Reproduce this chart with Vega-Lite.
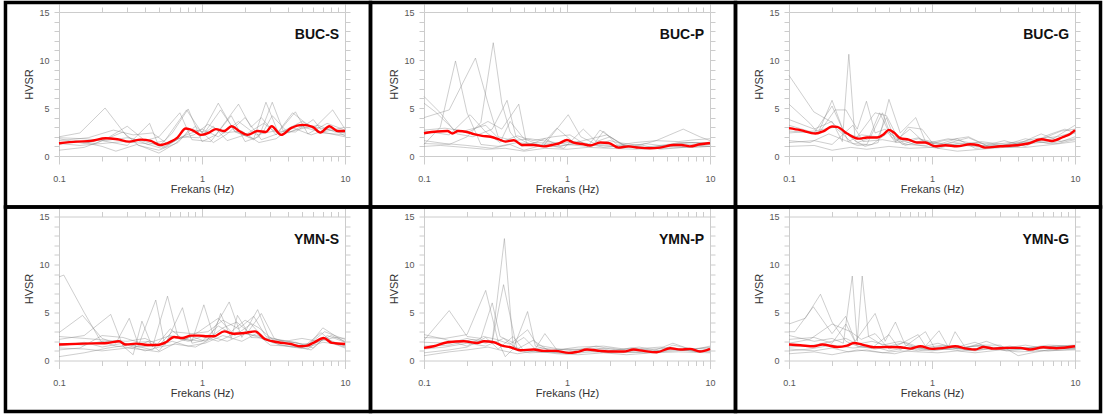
{
  "$schema": "https://vega.github.io/schema/vega-lite/v6.json",
  "background": "white",
  "padding": {"left": 3, "top": 0, "right": 0, "bottom": 0},
  "data": {"values": [
{"s":"BUC-S","t":0,"f":0.1,"h":1.33},{"s":"BUC-S","t":0,"f":0.134,"h":1.5},{"s":"BUC-S","t":0,"f":0.167,"h":1.57},{"s":"BUC-S","t":0,"f":0.212,"h":1.85},{"s":"BUC-S","t":0,"f":0.256,"h":1.74},{"s":"BUC-S","t":0,"f":0.309,"h":1.5},{"s":"BUC-S","t":0,"f":0.373,"h":1.71},{"s":"BUC-S","t":0,"f":0.438,"h":1.57},{"s":"BUC-S","t":0,"f":0.51,"h":1.15},{"s":"BUC-S","t":0,"f":0.605,"h":1.5},{"s":"BUC-S","t":0,"f":0.673,"h":1.92},{"s":"BUC-S","t":0,"f":0.77,"h":2.86},{"s":"BUC-S","t":0,"f":0.88,"h":2.6},{"s":"BUC-S","t":0,"f":0.98,"h":2.2},{"s":"BUC-S","t":0,"f":1.12,"h":2.44},{"s":"BUC-S","t":0,"f":1.25,"h":2.8},{"s":"BUC-S","t":0,"f":1.43,"h":2.6},{"s":"BUC-S","t":0,"f":1.61,"h":3.1},{"s":"BUC-S","t":0,"f":1.82,"h":2.6},{"s":"BUC-S","t":0,"f":2.08,"h":2.2},{"s":"BUC-S","t":0,"f":2.45,"h":2.6},{"s":"BUC-S","t":0,"f":2.8,"h":2.5},{"s":"BUC-S","t":0,"f":3.07,"h":3.1},{"s":"BUC-S","t":0,"f":3.57,"h":2.2},{"s":"BUC-S","t":0,"f":4.19,"h":2.9},{"s":"BUC-S","t":0,"f":5.06,"h":3.24},{"s":"BUC-S","t":0,"f":5.94,"h":3.03},{"s":"BUC-S","t":0,"f":6.72,"h":2.44},{"s":"BUC-S","t":0,"f":7.77,"h":3.1},{"s":"BUC-S","t":0,"f":8.89,"h":2.6},{"s":"BUC-S","t":0,"f":10,"h":2.6},
{"s":"BUC-S","t":1,"f":0.1,"h":2.0},{"s":"BUC-S","t":1,"f":0.14,"h":2.4},{"s":"BUC-S","t":1,"f":0.21,"h":5.0},{"s":"BUC-S","t":1,"f":0.3,"h":2.0},{"s":"BUC-S","t":1,"f":0.42,"h":1.2},{"s":"BUC-S","t":1,"f":0.55,"h":1.6},{"s":"BUC-S","t":1,"f":0.78,"h":4.8},{"s":"BUC-S","t":1,"f":1.0,"h":2.4},{"s":"BUC-S","t":1,"f":1.3,"h":5.5},{"s":"BUC-S","t":1,"f":1.7,"h":2.5},{"s":"BUC-S","t":1,"f":2.3,"h":1.8},{"s":"BUC-S","t":1,"f":2.8,"h":5.6},{"s":"BUC-S","t":1,"f":3.4,"h":2.5},{"s":"BUC-S","t":1,"f":4.3,"h":4.5},{"s":"BUC-S","t":1,"f":6.0,"h":2.8},{"s":"BUC-S","t":1,"f":8.2,"h":4.8},{"s":"BUC-S","t":1,"f":10,"h":2.8},
{"s":"BUC-S","t":2,"f":0.1,"h":1.8},{"s":"BUC-S","t":2,"f":0.15,"h":1.3},{"s":"BUC-S","t":2,"f":0.22,"h":1.9},{"s":"BUC-S","t":2,"f":0.3,"h":3.1},{"s":"BUC-S","t":2,"f":0.4,"h":1.6},{"s":"BUC-S","t":2,"f":0.5,"h":2.0},{"s":"BUC-S","t":2,"f":0.7,"h":4.5},{"s":"BUC-S","t":2,"f":0.85,"h":1.7},{"s":"BUC-S","t":2,"f":1.15,"h":1.5},{"s":"BUC-S","t":2,"f":1.6,"h":4.2},{"s":"BUC-S","t":2,"f":2.0,"h":1.5},{"s":"BUC-S","t":2,"f":2.5,"h":2.0},{"s":"BUC-S","t":2,"f":3.1,"h":5.6},{"s":"BUC-S","t":2,"f":3.7,"h":2.6},{"s":"BUC-S","t":2,"f":5.0,"h":3.6},{"s":"BUC-S","t":2,"f":7.0,"h":2.4},{"s":"BUC-S","t":2,"f":10,"h":2.2},
{"s":"BUC-S","t":3,"f":0.1,"h":0.6},{"s":"BUC-S","t":3,"f":0.15,"h":0.9},{"s":"BUC-S","t":3,"f":0.2,"h":1.6},{"s":"BUC-S","t":3,"f":0.3,"h":1.1},{"s":"BUC-S","t":3,"f":0.43,"h":3.4},{"s":"BUC-S","t":3,"f":0.5,"h":1.0},{"s":"BUC-S","t":3,"f":0.62,"h":2.4},{"s":"BUC-S","t":3,"f":0.8,"h":4.9},{"s":"BUC-S","t":3,"f":1.0,"h":1.5},{"s":"BUC-S","t":3,"f":1.25,"h":2.2},{"s":"BUC-S","t":3,"f":1.8,"h":5.4},{"s":"BUC-S","t":3,"f":2.2,"h":3.0},{"s":"BUC-S","t":3,"f":2.6,"h":4.0},{"s":"BUC-S","t":3,"f":3.3,"h":2.2},{"s":"BUC-S","t":3,"f":4.5,"h":4.6},{"s":"BUC-S","t":3,"f":5.5,"h":2.3},{"s":"BUC-S","t":3,"f":7.5,"h":3.4},{"s":"BUC-S","t":3,"f":10,"h":2.7},
{"s":"BUC-S","t":4,"f":0.1,"h":1.4},{"s":"BUC-S","t":4,"f":0.14,"h":1.5},{"s":"BUC-S","t":4,"f":0.2,"h":1.0},{"s":"BUC-S","t":4,"f":0.25,"h":0.5},{"s":"BUC-S","t":4,"f":0.35,"h":1.2},{"s":"BUC-S","t":4,"f":0.5,"h":0.3},{"s":"BUC-S","t":4,"f":0.65,"h":1.3},{"s":"BUC-S","t":4,"f":0.9,"h":3.1},{"s":"BUC-S","t":4,"f":1.2,"h":1.4},{"s":"BUC-S","t":4,"f":1.5,"h":2.3},{"s":"BUC-S","t":4,"f":2.0,"h":4.0},{"s":"BUC-S","t":4,"f":2.6,"h":1.7},{"s":"BUC-S","t":4,"f":3.5,"h":2.4},{"s":"BUC-S","t":4,"f":4.6,"h":3.2},{"s":"BUC-S","t":4,"f":6.4,"h":2.6},{"s":"BUC-S","t":4,"f":10,"h":2.0},
{"s":"BUC-S","t":5,"f":0.1,"h":1.2},{"s":"BUC-S","t":5,"f":0.13,"h":1.6},{"s":"BUC-S","t":5,"f":0.18,"h":1.3},{"s":"BUC-S","t":5,"f":0.28,"h":2.5},{"s":"BUC-S","t":5,"f":0.36,"h":1.1},{"s":"BUC-S","t":5,"f":0.5,"h":0.6},{"s":"BUC-S","t":5,"f":0.68,"h":1.4},{"s":"BUC-S","t":5,"f":0.82,"h":2.8},{"s":"BUC-S","t":5,"f":1.05,"h":2.5},{"s":"BUC-S","t":5,"f":1.35,"h":4.8},{"s":"BUC-S","t":5,"f":1.7,"h":2.6},{"s":"BUC-S","t":5,"f":2.3,"h":1.7},{"s":"BUC-S","t":5,"f":2.7,"h":2.6},{"s":"BUC-S","t":5,"f":3.1,"h":4.2},{"s":"BUC-S","t":5,"f":4.0,"h":2.4},{"s":"BUC-S","t":5,"f":5.2,"h":3.2},{"s":"BUC-S","t":5,"f":7.4,"h":2.8},{"s":"BUC-S","t":5,"f":10,"h":2.4},
{"s":"BUC-S","t":6,"f":0.1,"h":1.6},{"s":"BUC-S","t":6,"f":0.16,"h":1.9},{"s":"BUC-S","t":6,"f":0.24,"h":2.7},{"s":"BUC-S","t":6,"f":0.33,"h":2.2},{"s":"BUC-S","t":6,"f":0.45,"h":2.4},{"s":"BUC-S","t":6,"f":0.58,"h":1.2},{"s":"BUC-S","t":6,"f":0.75,"h":2.1},{"s":"BUC-S","t":6,"f":1.0,"h":2.8},{"s":"BUC-S","t":6,"f":1.3,"h":2.0},{"s":"BUC-S","t":6,"f":1.8,"h":3.6},{"s":"BUC-S","t":6,"f":2.4,"h":2.2},{"s":"BUC-S","t":6,"f":3.2,"h":2.6},{"s":"BUC-S","t":6,"f":4.5,"h":2.5},{"s":"BUC-S","t":6,"f":6.0,"h":3.8},{"s":"BUC-S","t":6,"f":7.0,"h":2.5},{"s":"BUC-S","t":6,"f":10,"h":3.0},
{"s":"BUC-S","t":7,"f":0.1,"h":1.9},{"s":"BUC-S","t":7,"f":0.15,"h":1.8},{"s":"BUC-S","t":7,"f":0.21,"h":1.6},{"s":"BUC-S","t":7,"f":0.3,"h":1.9},{"s":"BUC-S","t":7,"f":0.4,"h":1.5},{"s":"BUC-S","t":7,"f":0.55,"h":0.9},{"s":"BUC-S","t":7,"f":0.72,"h":2.0},{"s":"BUC-S","t":7,"f":0.95,"h":1.9},{"s":"BUC-S","t":7,"f":1.2,"h":3.1},{"s":"BUC-S","t":7,"f":1.5,"h":1.6},{"s":"BUC-S","t":7,"f":2.0,"h":2.2},{"s":"BUC-S","t":7,"f":2.7,"h":3.4},{"s":"BUC-S","t":7,"f":3.5,"h":2.2},{"s":"BUC-S","t":7,"f":4.8,"h":2.8},{"s":"BUC-S","t":7,"f":6.5,"h":3.2},{"s":"BUC-S","t":7,"f":8.5,"h":2.5},{"s":"BUC-S","t":7,"f":10,"h":2.4},
{"s":"BUC-S","t":8,"f":0.1,"h":1.3},{"s":"BUC-S","t":8,"f":0.14,"h":1.1},{"s":"BUC-S","t":8,"f":0.2,"h":1.3},{"s":"BUC-S","t":8,"f":0.28,"h":1.5},{"s":"BUC-S","t":8,"f":0.4,"h":1.3},{"s":"BUC-S","t":8,"f":0.52,"h":0.8},{"s":"BUC-S","t":8,"f":0.68,"h":1.8},{"s":"BUC-S","t":8,"f":0.88,"h":2.2},{"s":"BUC-S","t":8,"f":1.1,"h":3.3},{"s":"BUC-S","t":8,"f":1.4,"h":2.4},{"s":"BUC-S","t":8,"f":1.9,"h":2.6},{"s":"BUC-S","t":8,"f":2.5,"h":1.4},{"s":"BUC-S","t":8,"f":3.3,"h":1.8},{"s":"BUC-S","t":8,"f":4.2,"h":3.0},{"s":"BUC-S","t":8,"f":5.8,"h":2.2},{"s":"BUC-S","t":8,"f":8.0,"h":2.9},{"s":"BUC-S","t":8,"f":10,"h":2.1},

{"s":"BUC-P","t":0,"f":0.1,"h":2.37},{"s":"BUC-P","t":0,"f":0.124,"h":2.55},{"s":"BUC-P","t":0,"f":0.146,"h":2.6},{"s":"BUC-P","t":0,"f":0.158,"h":2.34},{"s":"BUC-P","t":0,"f":0.173,"h":2.6},{"s":"BUC-P","t":0,"f":0.2,"h":2.5},{"s":"BUC-P","t":0,"f":0.223,"h":2.27},{"s":"BUC-P","t":0,"f":0.255,"h":2.1},{"s":"BUC-P","t":0,"f":0.292,"h":2.0},{"s":"BUC-P","t":0,"f":0.334,"h":1.74},{"s":"BUC-P","t":0,"f":0.371,"h":1.5},{"s":"BUC-P","t":0,"f":0.425,"h":1.64},{"s":"BUC-P","t":0,"f":0.486,"h":1.15},{"s":"BUC-P","t":0,"f":0.585,"h":1.15},{"s":"BUC-P","t":0,"f":0.687,"h":1.0},{"s":"BUC-P","t":0,"f":0.785,"h":1.15},{"s":"BUC-P","t":0,"f":0.875,"h":1.3},{"s":"BUC-P","t":0,"f":1.0,"h":1.67},{"s":"BUC-P","t":0,"f":1.11,"h":1.4},{"s":"BUC-P","t":0,"f":1.31,"h":1.22},{"s":"BUC-P","t":0,"f":1.45,"h":1.1},{"s":"BUC-P","t":0,"f":1.71,"h":1.4},{"s":"BUC-P","t":0,"f":1.95,"h":1.36},{"s":"BUC-P","t":0,"f":2.29,"h":0.87},{"s":"BUC-P","t":0,"f":2.69,"h":1.0},{"s":"BUC-P","t":0,"f":3.16,"h":0.87},{"s":"BUC-P","t":0,"f":3.8,"h":0.8},{"s":"BUC-P","t":0,"f":4.48,"h":0.87},{"s":"BUC-P","t":0,"f":5.55,"h":1.15},{"s":"BUC-P","t":0,"f":6.3,"h":1.15},{"s":"BUC-P","t":0,"f":7.24,"h":1.0},{"s":"BUC-P","t":0,"f":8.5,"h":1.22},{"s":"BUC-P","t":0,"f":10,"h":1.36},
{"s":"BUC-P","t":1,"f":0.1,"h":1.2},{"s":"BUC-P","t":1,"f":0.13,"h":3.0},{"s":"BUC-P","t":1,"f":0.166,"h":9.9},{"s":"BUC-P","t":1,"f":0.2,"h":4.5},{"s":"BUC-P","t":1,"f":0.25,"h":1.2},{"s":"BUC-P","t":1,"f":0.33,"h":1.0},{"s":"BUC-P","t":1,"f":0.45,"h":1.4},{"s":"BUC-P","t":1,"f":0.6,"h":1.2},{"s":"BUC-P","t":1,"f":0.85,"h":1.0},{"s":"BUC-P","t":1,"f":1.2,"h":1.3},{"s":"BUC-P","t":1,"f":1.7,"h":1.1},{"s":"BUC-P","t":1,"f":2.5,"h":0.9},{"s":"BUC-P","t":1,"f":3.5,"h":0.8},{"s":"BUC-P","t":1,"f":5.0,"h":1.0},{"s":"BUC-P","t":1,"f":7.0,"h":1.0},{"s":"BUC-P","t":1,"f":10,"h":1.2},
{"s":"BUC-P","t":2,"f":0.1,"h":4.0},{"s":"BUC-P","t":2,"f":0.15,"h":4.8},{"s":"BUC-P","t":2,"f":0.229,"h":10.2},{"s":"BUC-P","t":2,"f":0.28,"h":5.5},{"s":"BUC-P","t":2,"f":0.33,"h":2.0},{"s":"BUC-P","t":2,"f":0.42,"h":1.6},{"s":"BUC-P","t":2,"f":0.55,"h":1.8},{"s":"BUC-P","t":2,"f":0.75,"h":1.5},{"s":"BUC-P","t":2,"f":1.0,"h":1.2},{"s":"BUC-P","t":2,"f":1.4,"h":1.0},{"s":"BUC-P","t":2,"f":2.0,"h":1.6},{"s":"BUC-P","t":2,"f":2.8,"h":1.0},{"s":"BUC-P","t":2,"f":4.0,"h":0.8},{"s":"BUC-P","t":2,"f":6.0,"h":1.4},{"s":"BUC-P","t":2,"f":10,"h":1.4},
{"s":"BUC-P","t":3,"f":0.1,"h":1.3},{"s":"BUC-P","t":3,"f":0.15,"h":1.2},{"s":"BUC-P","t":3,"f":0.2,"h":2.0},{"s":"BUC-P","t":3,"f":0.25,"h":3.5},{"s":"BUC-P","t":3,"f":0.305,"h":11.8},{"s":"BUC-P","t":3,"f":0.35,"h":5.5},{"s":"BUC-P","t":3,"f":0.4,"h":2.5},{"s":"BUC-P","t":3,"f":0.48,"h":1.0},{"s":"BUC-P","t":3,"f":0.6,"h":1.4},{"s":"BUC-P","t":3,"f":0.85,"h":1.3},{"s":"BUC-P","t":3,"f":1.2,"h":1.5},{"s":"BUC-P","t":3,"f":1.8,"h":0.9},{"s":"BUC-P","t":3,"f":2.5,"h":1.1},{"s":"BUC-P","t":3,"f":3.5,"h":0.9},{"s":"BUC-P","t":3,"f":5.0,"h":1.2},{"s":"BUC-P","t":3,"f":7.0,"h":1.4},{"s":"BUC-P","t":3,"f":10,"h":1.3},
{"s":"BUC-P","t":4,"f":0.1,"h":6.2},{"s":"BUC-P","t":4,"f":0.13,"h":4.5},{"s":"BUC-P","t":4,"f":0.17,"h":2.3},{"s":"BUC-P","t":4,"f":0.22,"h":2.0},{"s":"BUC-P","t":4,"f":0.3,"h":2.8},{"s":"BUC-P","t":4,"f":0.381,"h":5.8},{"s":"BUC-P","t":4,"f":0.44,"h":2.0},{"s":"BUC-P","t":4,"f":0.55,"h":1.2},{"s":"BUC-P","t":4,"f":0.7,"h":1.8},{"s":"BUC-P","t":4,"f":0.9,"h":1.0},{"s":"BUC-P","t":4,"f":1.3,"h":1.6},{"s":"BUC-P","t":4,"f":1.9,"h":2.2},{"s":"BUC-P","t":4,"f":2.6,"h":1.0},{"s":"BUC-P","t":4,"f":3.8,"h":0.9},{"s":"BUC-P","t":4,"f":5.5,"h":1.2},{"s":"BUC-P","t":4,"f":7.5,"h":1.4},{"s":"BUC-P","t":4,"f":10,"h":1.2},
{"s":"BUC-P","t":5,"f":0.1,"h":5.5},{"s":"BUC-P","t":5,"f":0.12,"h":4.6},{"s":"BUC-P","t":5,"f":0.16,"h":2.8},{"s":"BUC-P","t":5,"f":0.2,"h":2.4},{"s":"BUC-P","t":5,"f":0.28,"h":3.6},{"s":"BUC-P","t":5,"f":0.35,"h":2.8},{"s":"BUC-P","t":5,"f":0.46,"h":5.4},{"s":"BUC-P","t":5,"f":0.52,"h":1.4},{"s":"BUC-P","t":5,"f":0.65,"h":1.0},{"s":"BUC-P","t":5,"f":0.85,"h":2.9},{"s":"BUC-P","t":5,"f":1.1,"h":1.5},{"s":"BUC-P","t":5,"f":1.5,"h":1.0},{"s":"BUC-P","t":5,"f":1.8,"h":2.6},{"s":"BUC-P","t":5,"f":2.3,"h":1.0},{"s":"BUC-P","t":5,"f":3.2,"h":1.2},{"s":"BUC-P","t":5,"f":4.5,"h":0.7},{"s":"BUC-P","t":5,"f":6.5,"h":0.9},{"s":"BUC-P","t":5,"f":10,"h":1.0},
{"s":"BUC-P","t":6,"f":0.1,"h":2.6},{"s":"BUC-P","t":6,"f":0.15,"h":2.2},{"s":"BUC-P","t":6,"f":0.21,"h":4.3},{"s":"BUC-P","t":6,"f":0.27,"h":2.5},{"s":"BUC-P","t":6,"f":0.34,"h":1.4},{"s":"BUC-P","t":6,"f":0.4,"h":3.6},{"s":"BUC-P","t":6,"f":0.5,"h":1.8},{"s":"BUC-P","t":6,"f":0.68,"h":1.0},{"s":"BUC-P","t":6,"f":1.02,"h":4.3},{"s":"BUC-P","t":6,"f":1.25,"h":2.0},{"s":"BUC-P","t":6,"f":1.6,"h":1.2},{"s":"BUC-P","t":6,"f":2.2,"h":1.1},{"s":"BUC-P","t":6,"f":3.0,"h":1.4},{"s":"BUC-P","t":6,"f":4.2,"h":1.6},{"s":"BUC-P","t":6,"f":6.5,"h":2.8},{"s":"BUC-P","t":6,"f":8.5,"h":2.0},{"s":"BUC-P","t":6,"f":10,"h":1.6},
{"s":"BUC-P","t":7,"f":0.1,"h":1.6},{"s":"BUC-P","t":7,"f":0.14,"h":1.3},{"s":"BUC-P","t":7,"f":0.2,"h":1.1},{"s":"BUC-P","t":7,"f":0.3,"h":0.8},{"s":"BUC-P","t":7,"f":0.4,"h":1.2},{"s":"BUC-P","t":7,"f":0.5,"h":0.6},{"s":"BUC-P","t":7,"f":0.7,"h":1.2},{"s":"BUC-P","t":7,"f":0.95,"h":0.8},{"s":"BUC-P","t":7,"f":1.3,"h":2.8},{"s":"BUC-P","t":7,"f":1.6,"h":1.5},{"s":"BUC-P","t":7,"f":2.0,"h":2.0},{"s":"BUC-P","t":7,"f":2.6,"h":0.9},{"s":"BUC-P","t":7,"f":3.5,"h":1.3},{"s":"BUC-P","t":7,"f":5.0,"h":1.0},{"s":"BUC-P","t":7,"f":7.0,"h":1.2},{"s":"BUC-P","t":7,"f":10,"h":1.0},
{"s":"BUC-P","t":8,"f":0.1,"h":2.7},{"s":"BUC-P","t":8,"f":0.14,"h":2.9},{"s":"BUC-P","t":8,"f":0.19,"h":2.6},{"s":"BUC-P","t":8,"f":0.27,"h":3.2},{"s":"BUC-P","t":8,"f":0.35,"h":1.5},{"s":"BUC-P","t":8,"f":0.45,"h":2.1},{"s":"BUC-P","t":8,"f":0.58,"h":1.6},{"s":"BUC-P","t":8,"f":0.8,"h":2.0},{"s":"BUC-P","t":8,"f":1.05,"h":2.2},{"s":"BUC-P","t":8,"f":1.4,"h":1.0},{"s":"BUC-P","t":8,"f":1.7,"h":2.7},{"s":"BUC-P","t":8,"f":2.3,"h":1.4},{"s":"BUC-P","t":8,"f":3.2,"h":1.1},{"s":"BUC-P","t":8,"f":4.2,"h":1.6},{"s":"BUC-P","t":8,"f":6.0,"h":1.5},{"s":"BUC-P","t":8,"f":8.0,"h":1.7},{"s":"BUC-P","t":8,"f":10,"h":1.8},
{"s":"BUC-P","t":9,"f":0.1,"h":1.0},{"s":"BUC-P","t":9,"f":0.13,"h":1.1},{"s":"BUC-P","t":9,"f":0.19,"h":0.9},{"s":"BUC-P","t":9,"f":0.27,"h":0.7},{"s":"BUC-P","t":9,"f":0.37,"h":0.8},{"s":"BUC-P","t":9,"f":0.5,"h":0.5},{"s":"BUC-P","t":9,"f":0.7,"h":0.8},{"s":"BUC-P","t":9,"f":1.0,"h":0.7},{"s":"BUC-P","t":9,"f":1.4,"h":0.9},{"s":"BUC-P","t":9,"f":2.0,"h":0.8},{"s":"BUC-P","t":9,"f":3.0,"h":0.7},{"s":"BUC-P","t":9,"f":4.5,"h":0.8},{"s":"BUC-P","t":9,"f":7.0,"h":0.9},{"s":"BUC-P","t":9,"f":10,"h":1.0},

{"s":"BUC-G","t":0,"f":0.1,"h":2.9},{"s":"BUC-G","t":0,"f":0.12,"h":2.69},{"s":"BUC-G","t":0,"f":0.153,"h":2.34},{"s":"BUC-G","t":0,"f":0.175,"h":2.6},{"s":"BUC-G","t":0,"f":0.2,"h":3.07},{"s":"BUC-G","t":0,"f":0.217,"h":3.03},{"s":"BUC-G","t":0,"f":0.255,"h":2.34},{"s":"BUC-G","t":0,"f":0.308,"h":1.81},{"s":"BUC-G","t":0,"f":0.352,"h":1.92},{"s":"BUC-G","t":0,"f":0.413,"h":1.92},{"s":"BUC-G","t":0,"f":0.46,"h":2.27},{"s":"BUC-G","t":0,"f":0.499,"h":2.72},{"s":"BUC-G","t":0,"f":0.541,"h":2.44},{"s":"BUC-G","t":0,"f":0.601,"h":1.85},{"s":"BUC-G","t":0,"f":0.687,"h":1.71},{"s":"BUC-G","t":0,"f":0.785,"h":1.4},{"s":"BUC-G","t":0,"f":0.898,"h":1.4},{"s":"BUC-G","t":0,"f":1.055,"h":1.01},{"s":"BUC-G","t":0,"f":1.24,"h":1.12},{"s":"BUC-G","t":0,"f":1.49,"h":1.01},{"s":"BUC-G","t":0,"f":1.85,"h":1.22},{"s":"BUC-G","t":0,"f":2.11,"h":1.12},{"s":"BUC-G","t":0,"f":2.35,"h":0.87},{"s":"BUC-G","t":0,"f":3.0,"h":1.01},{"s":"BUC-G","t":0,"f":3.9,"h":1.12},{"s":"BUC-G","t":0,"f":4.7,"h":1.3},{"s":"BUC-G","t":0,"f":5.84,"h":1.74},{"s":"BUC-G","t":0,"f":6.9,"h":1.57},{"s":"BUC-G","t":0,"f":8.3,"h":2.0},{"s":"BUC-G","t":0,"f":9.2,"h":2.27},{"s":"BUC-G","t":0,"f":10,"h":2.69},
{"s":"BUC-G","t":1,"f":0.1,"h":8.4},{"s":"BUC-G","t":1,"f":0.149,"h":4.6},{"s":"BUC-G","t":1,"f":0.2,"h":3.5},{"s":"BUC-G","t":1,"f":0.24,"h":2.4},{"s":"BUC-G","t":1,"f":0.3,"h":2.0},{"s":"BUC-G","t":1,"f":0.4,"h":4.5},{"s":"BUC-G","t":1,"f":0.48,"h":4.2},{"s":"BUC-G","t":1,"f":0.58,"h":1.8},{"s":"BUC-G","t":1,"f":0.75,"h":1.2},{"s":"BUC-G","t":1,"f":1.0,"h":0.9},{"s":"BUC-G","t":1,"f":1.4,"h":1.2},{"s":"BUC-G","t":1,"f":2.0,"h":1.0},{"s":"BUC-G","t":1,"f":2.8,"h":1.1},{"s":"BUC-G","t":1,"f":4.0,"h":1.0},{"s":"BUC-G","t":1,"f":5.5,"h":1.6},{"s":"BUC-G","t":1,"f":8.0,"h":2.6},{"s":"BUC-G","t":1,"f":10,"h":2.8},
{"s":"BUC-G","t":2,"f":0.1,"h":5.4},{"s":"BUC-G","t":2,"f":0.14,"h":3.4},{"s":"BUC-G","t":2,"f":0.16,"h":2.4},{"s":"BUC-G","t":2,"f":0.2,"h":5.8},{"s":"BUC-G","t":2,"f":0.24,"h":2.6},{"s":"BUC-G","t":2,"f":0.3,"h":1.4},{"s":"BUC-G","t":2,"f":0.36,"h":1.8},{"s":"BUC-G","t":2,"f":0.43,"h":4.5},{"s":"BUC-G","t":2,"f":0.5,"h":2.5},{"s":"BUC-G","t":2,"f":0.62,"h":1.2},{"s":"BUC-G","t":2,"f":0.8,"h":1.8},{"s":"BUC-G","t":2,"f":1.0,"h":1.5},{"s":"BUC-G","t":2,"f":1.5,"h":1.0},{"s":"BUC-G","t":2,"f":2.2,"h":1.5},{"s":"BUC-G","t":2,"f":3.2,"h":1.2},{"s":"BUC-G","t":2,"f":4.8,"h":1.4},{"s":"BUC-G","t":2,"f":7.0,"h":1.8},{"s":"BUC-G","t":2,"f":10,"h":3.2},
{"s":"BUC-G","t":3,"f":0.1,"h":3.8},{"s":"BUC-G","t":3,"f":0.15,"h":2.8},{"s":"BUC-G","t":3,"f":0.2,"h":3.6},{"s":"BUC-G","t":3,"f":0.236,"h":1.5},{"s":"BUC-G","t":3,"f":0.262,"h":10.6},{"s":"BUC-G","t":3,"f":0.29,"h":1.6},{"s":"BUC-G","t":3,"f":0.34,"h":1.0},{"s":"BUC-G","t":3,"f":0.42,"h":1.4},{"s":"BUC-G","t":3,"f":0.5,"h":5.9},{"s":"BUC-G","t":3,"f":0.6,"h":2.4},{"s":"BUC-G","t":3,"f":0.77,"h":4.0},{"s":"BUC-G","t":3,"f":0.9,"h":1.5},{"s":"BUC-G","t":3,"f":1.2,"h":1.2},{"s":"BUC-G","t":3,"f":1.8,"h":1.9},{"s":"BUC-G","t":3,"f":2.5,"h":1.0},{"s":"BUC-G","t":3,"f":3.6,"h":1.2},{"s":"BUC-G","t":3,"f":5.2,"h":1.8},{"s":"BUC-G","t":3,"f":7.5,"h":2.0},{"s":"BUC-G","t":3,"f":10,"h":2.5},
{"s":"BUC-G","t":4,"f":0.1,"h":3.2},{"s":"BUC-G","t":4,"f":0.16,"h":2.3},{"s":"BUC-G","t":4,"f":0.21,"h":4.8},{"s":"BUC-G","t":4,"f":0.25,"h":4.8},{"s":"BUC-G","t":4,"f":0.3,"h":2.8},{"s":"BUC-G","t":4,"f":0.348,"h":5.7},{"s":"BUC-G","t":4,"f":0.4,"h":2.4},{"s":"BUC-G","t":4,"f":0.47,"h":2.8},{"s":"BUC-G","t":4,"f":0.55,"h":1.5},{"s":"BUC-G","t":4,"f":0.7,"h":2.8},{"s":"BUC-G","t":4,"f":0.9,"h":1.3},{"s":"BUC-G","t":4,"f":1.3,"h":1.8},{"s":"BUC-G","t":4,"f":1.8,"h":1.4},{"s":"BUC-G","t":4,"f":2.5,"h":1.3},{"s":"BUC-G","t":4,"f":3.5,"h":0.9},{"s":"BUC-G","t":4,"f":5.0,"h":1.3},{"s":"BUC-G","t":4,"f":7.0,"h":1.6},{"s":"BUC-G","t":4,"f":10,"h":2.4},
{"s":"BUC-G","t":5,"f":0.1,"h":2.6},{"s":"BUC-G","t":5,"f":0.15,"h":2.4},{"s":"BUC-G","t":5,"f":0.2,"h":5.2},{"s":"BUC-G","t":5,"f":0.26,"h":1.5},{"s":"BUC-G","t":5,"f":0.32,"h":2.2},{"s":"BUC-G","t":5,"f":0.42,"h":2.0},{"s":"BUC-G","t":5,"f":0.48,"h":4.0},{"s":"BUC-G","t":5,"f":0.56,"h":1.4},{"s":"BUC-G","t":5,"f":0.68,"h":3.0},{"s":"BUC-G","t":5,"f":0.85,"h":2.8},{"s":"BUC-G","t":5,"f":1.05,"h":1.0},{"s":"BUC-G","t":5,"f":1.4,"h":1.4},{"s":"BUC-G","t":5,"f":2.0,"h":1.2},{"s":"BUC-G","t":5,"f":2.6,"h":0.9},{"s":"BUC-G","t":5,"f":3.8,"h":1.1},{"s":"BUC-G","t":5,"f":5.8,"h":2.3},{"s":"BUC-G","t":5,"f":8.0,"h":1.5},{"s":"BUC-G","t":5,"f":10,"h":2.0},
{"s":"BUC-G","t":6,"f":0.1,"h":2.4},{"s":"BUC-G","t":6,"f":0.15,"h":2.6},{"s":"BUC-G","t":6,"f":0.21,"h":3.0},{"s":"BUC-G","t":6,"f":0.28,"h":1.3},{"s":"BUC-G","t":6,"f":0.35,"h":1.2},{"s":"BUC-G","t":6,"f":0.45,"h":4.5},{"s":"BUC-G","t":6,"f":0.52,"h":2.0},{"s":"BUC-G","t":6,"f":0.65,"h":1.1},{"s":"BUC-G","t":6,"f":0.85,"h":1.6},{"s":"BUC-G","t":6,"f":1.1,"h":1.2},{"s":"BUC-G","t":6,"f":1.5,"h":1.8},{"s":"BUC-G","t":6,"f":2.0,"h":0.8},{"s":"BUC-G","t":6,"f":3.0,"h":1.0},{"s":"BUC-G","t":6,"f":4.5,"h":1.8},{"s":"BUC-G","t":6,"f":6.5,"h":1.3},{"s":"BUC-G","t":6,"f":10,"h":1.8},
{"s":"BUC-G","t":7,"f":0.1,"h":1.0},{"s":"BUC-G","t":7,"f":0.15,"h":1.1},{"s":"BUC-G","t":7,"f":0.2,"h":0.6},{"s":"BUC-G","t":7,"f":0.27,"h":0.9},{"s":"BUC-G","t":7,"f":0.35,"h":0.7},{"s":"BUC-G","t":7,"f":0.5,"h":1.0},{"s":"BUC-G","t":7,"f":0.7,"h":0.8},{"s":"BUC-G","t":7,"f":1.0,"h":0.9},{"s":"BUC-G","t":7,"f":1.5,"h":0.5},{"s":"BUC-G","t":7,"f":2.2,"h":0.7},{"s":"BUC-G","t":7,"f":3.2,"h":0.9},{"s":"BUC-G","t":7,"f":4.5,"h":0.9},{"s":"BUC-G","t":7,"f":7.0,"h":1.2},{"s":"BUC-G","t":7,"f":10,"h":1.5},
{"s":"BUC-G","t":8,"f":0.1,"h":1.4},{"s":"BUC-G","t":8,"f":0.15,"h":1.6},{"s":"BUC-G","t":8,"f":0.2,"h":1.2},{"s":"BUC-G","t":8,"f":0.28,"h":3.2},{"s":"BUC-G","t":8,"f":0.33,"h":1.5},{"s":"BUC-G","t":8,"f":0.45,"h":1.7},{"s":"BUC-G","t":8,"f":0.58,"h":1.4},{"s":"BUC-G","t":8,"f":0.8,"h":1.9},{"s":"BUC-G","t":8,"f":1.1,"h":0.8},{"s":"BUC-G","t":8,"f":1.5,"h":1.3},{"s":"BUC-G","t":8,"f":2.2,"h":1.0},{"s":"BUC-G","t":8,"f":3.2,"h":1.6},{"s":"BUC-G","t":8,"f":4.5,"h":1.0},{"s":"BUC-G","t":8,"f":6.5,"h":2.2},{"s":"BUC-G","t":8,"f":8.5,"h":2.8},{"s":"BUC-G","t":8,"f":10,"h":2.4},
{"s":"BUC-G","t":9,"f":0.1,"h":1.6},{"s":"BUC-G","t":9,"f":0.14,"h":1.4},{"s":"BUC-G","t":9,"f":0.19,"h":2.3},{"s":"BUC-G","t":9,"f":0.23,"h":1.8},{"s":"BUC-G","t":9,"f":0.3,"h":1.1},{"s":"BUC-G","t":9,"f":0.38,"h":1.2},{"s":"BUC-G","t":9,"f":0.5,"h":2.5},{"s":"BUC-G","t":9,"f":0.65,"h":1.2},{"s":"BUC-G","t":9,"f":0.9,"h":1.1},{"s":"BUC-G","t":9,"f":1.2,"h":1.6},{"s":"BUC-G","t":9,"f":1.8,"h":2.0},{"s":"BUC-G","t":9,"f":2.4,"h":1.1},{"s":"BUC-G","t":9,"f":3.5,"h":1.4},{"s":"BUC-G","t":9,"f":5.0,"h":1.5},{"s":"BUC-G","t":9,"f":7.5,"h":1.3},{"s":"BUC-G","t":9,"f":10,"h":1.7},

{"s":"YMN-S","t":0,"f":0.1,"h":1.66},{"s":"YMN-S","t":0,"f":0.149,"h":1.76},{"s":"YMN-S","t":0,"f":0.218,"h":1.83},{"s":"YMN-S","t":0,"f":0.263,"h":2.0},{"s":"YMN-S","t":0,"f":0.293,"h":1.66},{"s":"YMN-S","t":0,"f":0.345,"h":1.76},{"s":"YMN-S","t":0,"f":0.416,"h":1.62},{"s":"YMN-S","t":0,"f":0.488,"h":1.62},{"s":"YMN-S","t":0,"f":0.558,"h":1.9},{"s":"YMN-S","t":0,"f":0.638,"h":2.45},{"s":"YMN-S","t":0,"f":0.729,"h":2.34},{"s":"YMN-S","t":0,"f":0.835,"h":2.59},{"s":"YMN-S","t":0,"f":0.954,"h":2.59},{"s":"YMN-S","t":0,"f":1.09,"h":2.52},{"s":"YMN-S","t":0,"f":1.21,"h":2.52},{"s":"YMN-S","t":0,"f":1.43,"h":3.03},{"s":"YMN-S","t":0,"f":1.67,"h":2.79},{"s":"YMN-S","t":0,"f":1.98,"h":2.86},{"s":"YMN-S","t":0,"f":2.35,"h":3.03},{"s":"YMN-S","t":0,"f":2.75,"h":2.24},{"s":"YMN-S","t":0,"f":3.4,"h":1.9},{"s":"YMN-S","t":0,"f":4.18,"h":1.72},{"s":"YMN-S","t":0,"f":4.9,"h":1.48},{"s":"YMN-S","t":0,"f":5.44,"h":1.55},{"s":"YMN-S","t":0,"f":6.0,"h":1.83},{"s":"YMN-S","t":0,"f":7.1,"h":2.34},{"s":"YMN-S","t":0,"f":8.1,"h":1.83},{"s":"YMN-S","t":0,"f":10,"h":1.72},
{"s":"YMN-S","t":1,"f":0.1,"h":8.7},{"s":"YMN-S","t":1,"f":0.108,"h":8.9},{"s":"YMN-S","t":1,"f":0.15,"h":5.0},{"s":"YMN-S","t":1,"f":0.196,"h":2.0},{"s":"YMN-S","t":1,"f":0.25,"h":1.5},{"s":"YMN-S","t":1,"f":0.33,"h":1.3},{"s":"YMN-S","t":1,"f":0.42,"h":2.0},{"s":"YMN-S","t":1,"f":0.5,"h":1.0},{"s":"YMN-S","t":1,"f":0.6,"h":2.5},{"s":"YMN-S","t":1,"f":0.8,"h":2.0},{"s":"YMN-S","t":1,"f":1.0,"h":2.5},{"s":"YMN-S","t":1,"f":1.3,"h":2.0},{"s":"YMN-S","t":1,"f":1.8,"h":3.0},{"s":"YMN-S","t":1,"f":2.4,"h":2.5},{"s":"YMN-S","t":1,"f":3.2,"h":1.8},{"s":"YMN-S","t":1,"f":4.2,"h":1.4},{"s":"YMN-S","t":1,"f":5.5,"h":1.2},{"s":"YMN-S","t":1,"f":7.0,"h":2.4},{"s":"YMN-S","t":1,"f":10,"h":1.5},
{"s":"YMN-S","t":2,"f":0.1,"h":2.9},{"s":"YMN-S","t":2,"f":0.146,"h":4.7},{"s":"YMN-S","t":2,"f":0.2,"h":2.3},{"s":"YMN-S","t":2,"f":0.25,"h":1.8},{"s":"YMN-S","t":2,"f":0.31,"h":4.4},{"s":"YMN-S","t":2,"f":0.36,"h":1.6},{"s":"YMN-S","t":2,"f":0.475,"h":6.3},{"s":"YMN-S","t":2,"f":0.55,"h":1.6},{"s":"YMN-S","t":2,"f":0.73,"h":5.5},{"s":"YMN-S","t":2,"f":0.85,"h":1.8},{"s":"YMN-S","t":2,"f":1.1,"h":2.2},{"s":"YMN-S","t":2,"f":1.55,"h":6.1},{"s":"YMN-S","t":2,"f":1.9,"h":2.4},{"s":"YMN-S","t":2,"f":2.45,"h":5.3},{"s":"YMN-S","t":2,"f":3.0,"h":2.0},{"s":"YMN-S","t":2,"f":4.0,"h":1.7},{"s":"YMN-S","t":2,"f":5.5,"h":1.5},{"s":"YMN-S","t":2,"f":7.0,"h":3.4},{"s":"YMN-S","t":2,"f":10,"h":1.9},
{"s":"YMN-S","t":3,"f":0.1,"h":2.2},{"s":"YMN-S","t":3,"f":0.15,"h":2.6},{"s":"YMN-S","t":3,"f":0.23,"h":4.8},{"s":"YMN-S","t":3,"f":0.28,"h":1.5},{"s":"YMN-S","t":3,"f":0.33,"h":0.6},{"s":"YMN-S","t":3,"f":0.38,"h":4.1},{"s":"YMN-S","t":3,"f":0.45,"h":1.4},{"s":"YMN-S","t":3,"f":0.574,"h":6.7},{"s":"YMN-S","t":3,"f":0.68,"h":2.4},{"s":"YMN-S","t":3,"f":0.85,"h":2.0},{"s":"YMN-S","t":3,"f":1.03,"h":5.8},{"s":"YMN-S","t":3,"f":1.2,"h":2.6},{"s":"YMN-S","t":3,"f":1.35,"h":4.9},{"s":"YMN-S","t":3,"f":1.6,"h":2.3},{"s":"YMN-S","t":3,"f":1.77,"h":4.7},{"s":"YMN-S","t":3,"f":2.2,"h":2.4},{"s":"YMN-S","t":3,"f":3.0,"h":2.3},{"s":"YMN-S","t":3,"f":4.0,"h":2.0},{"s":"YMN-S","t":3,"f":5.5,"h":1.6},{"s":"YMN-S","t":3,"f":7.2,"h":3.0},{"s":"YMN-S","t":3,"f":10,"h":2.2},
{"s":"YMN-S","t":4,"f":0.1,"h":1.8},{"s":"YMN-S","t":4,"f":0.15,"h":1.6},{"s":"YMN-S","t":4,"f":0.2,"h":2.0},{"s":"YMN-S","t":4,"f":0.27,"h":1.9},{"s":"YMN-S","t":4,"f":0.35,"h":1.5},{"s":"YMN-S","t":4,"f":0.45,"h":1.1},{"s":"YMN-S","t":4,"f":0.6,"h":3.3},{"s":"YMN-S","t":4,"f":0.75,"h":2.1},{"s":"YMN-S","t":4,"f":0.95,"h":3.0},{"s":"YMN-S","t":4,"f":1.3,"h":4.4},{"s":"YMN-S","t":4,"f":1.6,"h":3.0},{"s":"YMN-S","t":4,"f":2.0,"h":4.2},{"s":"YMN-S","t":4,"f":2.5,"h":3.4},{"s":"YMN-S","t":4,"f":3.3,"h":1.9},{"s":"YMN-S","t":4,"f":4.5,"h":1.9},{"s":"YMN-S","t":4,"f":6.0,"h":1.3},{"s":"YMN-S","t":4,"f":7.5,"h":2.6},{"s":"YMN-S","t":4,"f":10,"h":1.9},
{"s":"YMN-S","t":5,"f":0.1,"h":1.3},{"s":"YMN-S","t":5,"f":0.15,"h":1.2},{"s":"YMN-S","t":5,"f":0.2,"h":1.0},{"s":"YMN-S","t":5,"f":0.3,"h":1.3},{"s":"YMN-S","t":5,"f":0.4,"h":1.1},{"s":"YMN-S","t":5,"f":0.5,"h":0.9},{"s":"YMN-S","t":5,"f":0.65,"h":1.8},{"s":"YMN-S","t":5,"f":0.85,"h":2.5},{"s":"YMN-S","t":5,"f":1.05,"h":2.0},{"s":"YMN-S","t":5,"f":1.4,"h":3.4},{"s":"YMN-S","t":5,"f":1.75,"h":4.0},{"s":"YMN-S","t":5,"f":2.1,"h":3.0},{"s":"YMN-S","t":5,"f":2.6,"h":4.9},{"s":"YMN-S","t":5,"f":3.2,"h":2.3},{"s":"YMN-S","t":5,"f":4.5,"h":1.5},{"s":"YMN-S","t":5,"f":5.8,"h":1.1},{"s":"YMN-S","t":5,"f":7.0,"h":2.2},{"s":"YMN-S","t":5,"f":10,"h":1.4},
{"s":"YMN-S","t":6,"f":0.1,"h":0.4},{"s":"YMN-S","t":6,"f":0.15,"h":0.8},{"s":"YMN-S","t":6,"f":0.22,"h":1.3},{"s":"YMN-S","t":6,"f":0.3,"h":1.6},{"s":"YMN-S","t":6,"f":0.4,"h":1.0},{"s":"YMN-S","t":6,"f":0.5,"h":1.4},{"s":"YMN-S","t":6,"f":0.65,"h":1.7},{"s":"YMN-S","t":6,"f":0.9,"h":1.4},{"s":"YMN-S","t":6,"f":1.2,"h":2.4},{"s":"YMN-S","t":6,"f":1.5,"h":2.0},{"s":"YMN-S","t":6,"f":2.0,"h":2.8},{"s":"YMN-S","t":6,"f":2.6,"h":2.5},{"s":"YMN-S","t":6,"f":3.5,"h":1.6},{"s":"YMN-S","t":6,"f":5.0,"h":1.3},{"s":"YMN-S","t":6,"f":6.8,"h":2.9},{"s":"YMN-S","t":6,"f":8.5,"h":1.7},{"s":"YMN-S","t":6,"f":10,"h":1.3},
{"s":"YMN-S","t":7,"f":0.1,"h":1.1},{"s":"YMN-S","t":7,"f":0.14,"h":1.3},{"s":"YMN-S","t":7,"f":0.2,"h":2.6},{"s":"YMN-S","t":7,"f":0.28,"h":2.4},{"s":"YMN-S","t":7,"f":0.36,"h":1.9},{"s":"YMN-S","t":7,"f":0.46,"h":2.0},{"s":"YMN-S","t":7,"f":0.6,"h":2.6},{"s":"YMN-S","t":7,"f":0.78,"h":2.2},{"s":"YMN-S","t":7,"f":1.0,"h":2.0},{"s":"YMN-S","t":7,"f":1.3,"h":3.6},{"s":"YMN-S","t":7,"f":1.7,"h":2.6},{"s":"YMN-S","t":7,"f":2.2,"h":3.8},{"s":"YMN-S","t":7,"f":2.8,"h":2.1},{"s":"YMN-S","t":7,"f":3.7,"h":2.1},{"s":"YMN-S","t":7,"f":5.0,"h":1.7},{"s":"YMN-S","t":7,"f":6.5,"h":1.9},{"s":"YMN-S","t":7,"f":8.0,"h":2.6},{"s":"YMN-S","t":7,"f":10,"h":2.0},
{"s":"YMN-S","t":8,"f":0.1,"h":2.5},{"s":"YMN-S","t":8,"f":0.15,"h":2.3},{"s":"YMN-S","t":8,"f":0.22,"h":2.1},{"s":"YMN-S","t":8,"f":0.3,"h":2.0},{"s":"YMN-S","t":8,"f":0.4,"h":2.3},{"s":"YMN-S","t":8,"f":0.5,"h":1.6},{"s":"YMN-S","t":8,"f":0.62,"h":3.0},{"s":"YMN-S","t":8,"f":0.85,"h":2.8},{"s":"YMN-S","t":8,"f":1.1,"h":3.0},{"s":"YMN-S","t":8,"f":1.4,"h":4.2},{"s":"YMN-S","t":8,"f":1.8,"h":3.3},{"s":"YMN-S","t":8,"f":2.3,"h":4.6},{"s":"YMN-S","t":8,"f":2.8,"h":2.5},{"s":"YMN-S","t":8,"f":3.8,"h":2.0},{"s":"YMN-S","t":8,"f":5.0,"h":2.3},{"s":"YMN-S","t":8,"f":6.5,"h":2.0},{"s":"YMN-S","t":8,"f":8.5,"h":2.4},{"s":"YMN-S","t":8,"f":10,"h":2.3},
{"s":"YMN-S","t":9,"f":0.1,"h":1.5},{"s":"YMN-S","t":9,"f":0.15,"h":1.9},{"s":"YMN-S","t":9,"f":0.2,"h":1.4},{"s":"YMN-S","t":9,"f":0.28,"h":1.8},{"s":"YMN-S","t":9,"f":0.36,"h":1.4},{"s":"YMN-S","t":9,"f":0.5,"h":1.6},{"s":"YMN-S","t":9,"f":0.62,"h":2.0},{"s":"YMN-S","t":9,"f":0.8,"h":1.5},{"s":"YMN-S","t":9,"f":1.05,"h":1.8},{"s":"YMN-S","t":9,"f":1.4,"h":2.6},{"s":"YMN-S","t":9,"f":1.9,"h":2.0},{"s":"YMN-S","t":9,"f":2.4,"h":2.8},{"s":"YMN-S","t":9,"f":3.0,"h":1.6},{"s":"YMN-S","t":9,"f":4.0,"h":1.5},{"s":"YMN-S","t":9,"f":5.5,"h":1.4},{"s":"YMN-S","t":9,"f":7.0,"h":1.9},{"s":"YMN-S","t":9,"f":10,"h":1.6},

{"s":"YMN-P","t":0,"f":0.1,"h":1.31},{"s":"YMN-P","t":0,"f":0.117,"h":1.48},{"s":"YMN-P","t":0,"f":0.146,"h":1.9},{"s":"YMN-P","t":0,"f":0.19,"h":2.0},{"s":"YMN-P","t":0,"f":0.236,"h":1.83},{"s":"YMN-P","t":0,"f":0.262,"h":2.0},{"s":"YMN-P","t":0,"f":0.308,"h":1.9},{"s":"YMN-P","t":0,"f":0.352,"h":1.55},{"s":"YMN-P","t":0,"f":0.402,"h":1.38},{"s":"YMN-P","t":0,"f":0.472,"h":1.07},{"s":"YMN-P","t":0,"f":0.585,"h":1.14},{"s":"YMN-P","t":0,"f":0.687,"h":1.0},{"s":"YMN-P","t":0,"f":0.829,"h":1.0},{"s":"YMN-P","t":0,"f":1.03,"h":0.79},{"s":"YMN-P","t":0,"f":1.18,"h":0.9},{"s":"YMN-P","t":0,"f":1.38,"h":1.14},{"s":"YMN-P","t":0,"f":1.71,"h":1.0},{"s":"YMN-P","t":0,"f":2.11,"h":0.93},{"s":"YMN-P","t":0,"f":2.49,"h":0.93},{"s":"YMN-P","t":0,"f":2.92,"h":1.14},{"s":"YMN-P","t":0,"f":3.43,"h":1.0},{"s":"YMN-P","t":0,"f":4.24,"h":0.86},{"s":"YMN-P","t":0,"f":5.27,"h":1.28},{"s":"YMN-P","t":0,"f":6.2,"h":1.14},{"s":"YMN-P","t":0,"f":7.24,"h":1.21},{"s":"YMN-P","t":0,"f":8.5,"h":0.93},{"s":"YMN-P","t":0,"f":10,"h":1.21},
{"s":"YMN-P","t":1,"f":0.1,"h":1.9},{"s":"YMN-P","t":1,"f":0.15,"h":1.8},{"s":"YMN-P","t":1,"f":0.2,"h":2.3},{"s":"YMN-P","t":1,"f":0.27,"h":1.8},{"s":"YMN-P","t":1,"f":0.3,"h":2.0},{"s":"YMN-P","t":1,"f":0.365,"h":12.7},{"s":"YMN-P","t":1,"f":0.42,"h":1.5},{"s":"YMN-P","t":1,"f":0.5,"h":1.0},{"s":"YMN-P","t":1,"f":0.65,"h":0.9},{"s":"YMN-P","t":1,"f":0.9,"h":0.8},{"s":"YMN-P","t":1,"f":1.3,"h":1.0},{"s":"YMN-P","t":1,"f":2.0,"h":0.9},{"s":"YMN-P","t":1,"f":3.0,"h":1.0},{"s":"YMN-P","t":1,"f":4.5,"h":0.9},{"s":"YMN-P","t":1,"f":7.0,"h":1.1},{"s":"YMN-P","t":1,"f":10,"h":1.0},
{"s":"YMN-P","t":2,"f":0.1,"h":1.5},{"s":"YMN-P","t":2,"f":0.15,"h":1.6},{"s":"YMN-P","t":2,"f":0.22,"h":2.2},{"s":"YMN-P","t":2,"f":0.3,"h":2.0},{"s":"YMN-P","t":2,"f":0.36,"h":7.9},{"s":"YMN-P","t":2,"f":0.45,"h":1.0},{"s":"YMN-P","t":2,"f":0.55,"h":0.8},{"s":"YMN-P","t":2,"f":0.75,"h":0.9},{"s":"YMN-P","t":2,"f":1.0,"h":0.7},{"s":"YMN-P","t":2,"f":1.5,"h":0.9},{"s":"YMN-P","t":2,"f":2.2,"h":0.8},{"s":"YMN-P","t":2,"f":3.5,"h":0.9},{"s":"YMN-P","t":2,"f":5.5,"h":1.2},{"s":"YMN-P","t":2,"f":8.0,"h":1.0},{"s":"YMN-P","t":2,"f":10,"h":1.2},
{"s":"YMN-P","t":3,"f":0.1,"h":2.4},{"s":"YMN-P","t":3,"f":0.14,"h":2.3},{"s":"YMN-P","t":3,"f":0.2,"h":2.7},{"s":"YMN-P","t":3,"f":0.27,"h":7.3},{"s":"YMN-P","t":3,"f":0.33,"h":2.0},{"s":"YMN-P","t":3,"f":0.37,"h":0.4},{"s":"YMN-P","t":3,"f":0.42,"h":1.2},{"s":"YMN-P","t":3,"f":0.53,"h":5.1},{"s":"YMN-P","t":3,"f":0.6,"h":1.5},{"s":"YMN-P","t":3,"f":0.8,"h":1.0},{"s":"YMN-P","t":3,"f":1.1,"h":0.8},{"s":"YMN-P","t":3,"f":1.6,"h":1.3},{"s":"YMN-P","t":3,"f":2.4,"h":0.9},{"s":"YMN-P","t":3,"f":3.5,"h":0.8},{"s":"YMN-P","t":3,"f":5.5,"h":1.1},{"s":"YMN-P","t":3,"f":10,"h":0.9},
{"s":"YMN-P","t":4,"f":0.1,"h":2.1},{"s":"YMN-P","t":4,"f":0.15,"h":5.2},{"s":"YMN-P","t":4,"f":0.2,"h":2.5},{"s":"YMN-P","t":4,"f":0.25,"h":2.3},{"s":"YMN-P","t":4,"f":0.3,"h":6.0},{"s":"YMN-P","t":4,"f":0.34,"h":2.5},{"s":"YMN-P","t":4,"f":0.43,"h":1.8},{"s":"YMN-P","t":4,"f":0.5,"h":2.4},{"s":"YMN-P","t":4,"f":0.6,"h":1.2},{"s":"YMN-P","t":4,"f":0.7,"h":2.8},{"s":"YMN-P","t":4,"f":0.85,"h":1.1},{"s":"YMN-P","t":4,"f":1.2,"h":1.4},{"s":"YMN-P","t":4,"f":1.8,"h":1.5},{"s":"YMN-P","t":4,"f":2.5,"h":1.2},{"s":"YMN-P","t":4,"f":3.2,"h":1.4},{"s":"YMN-P","t":4,"f":4.5,"h":1.0},{"s":"YMN-P","t":4,"f":5.5,"h":1.6},{"s":"YMN-P","t":4,"f":7.5,"h":1.2},{"s":"YMN-P","t":4,"f":10,"h":1.3},
{"s":"YMN-P","t":5,"f":0.1,"h":2.7},{"s":"YMN-P","t":5,"f":0.14,"h":2.2},{"s":"YMN-P","t":5,"f":0.2,"h":1.5},{"s":"YMN-P","t":5,"f":0.26,"h":2.5},{"s":"YMN-P","t":5,"f":0.32,"h":2.2},{"s":"YMN-P","t":5,"f":0.4,"h":1.7},{"s":"YMN-P","t":5,"f":0.53,"h":3.2},{"s":"YMN-P","t":5,"f":0.62,"h":1.6},{"s":"YMN-P","t":5,"f":0.8,"h":1.3},{"s":"YMN-P","t":5,"f":1.1,"h":1.0},{"s":"YMN-P","t":5,"f":1.6,"h":1.5},{"s":"YMN-P","t":5,"f":2.2,"h":1.1},{"s":"YMN-P","t":5,"f":3.0,"h":1.2},{"s":"YMN-P","t":5,"f":4.5,"h":1.4},{"s":"YMN-P","t":5,"f":6.5,"h":1.1},{"s":"YMN-P","t":5,"f":10,"h":1.4},
{"s":"YMN-P","t":6,"f":0.1,"h":0.5},{"s":"YMN-P","t":6,"f":0.15,"h":0.9},{"s":"YMN-P","t":6,"f":0.2,"h":1.1},{"s":"YMN-P","t":6,"f":0.28,"h":1.4},{"s":"YMN-P","t":6,"f":0.36,"h":1.0},{"s":"YMN-P","t":6,"f":0.45,"h":0.7},{"s":"YMN-P","t":6,"f":0.6,"h":1.0},{"s":"YMN-P","t":6,"f":0.85,"h":0.7},{"s":"YMN-P","t":6,"f":1.2,"h":0.6},{"s":"YMN-P","t":6,"f":1.8,"h":0.8},{"s":"YMN-P","t":6,"f":2.6,"h":0.6},{"s":"YMN-P","t":6,"f":4.0,"h":0.8},{"s":"YMN-P","t":6,"f":6.0,"h":0.9},{"s":"YMN-P","t":6,"f":10,"h":0.8},
{"s":"YMN-P","t":7,"f":0.1,"h":1.2},{"s":"YMN-P","t":7,"f":0.14,"h":1.4},{"s":"YMN-P","t":7,"f":0.2,"h":1.8},{"s":"YMN-P","t":7,"f":0.27,"h":1.5},{"s":"YMN-P","t":7,"f":0.36,"h":2.3},{"s":"YMN-P","t":7,"f":0.45,"h":1.2},{"s":"YMN-P","t":7,"f":0.58,"h":2.1},{"s":"YMN-P","t":7,"f":0.75,"h":1.0},{"s":"YMN-P","t":7,"f":1.0,"h":1.2},{"s":"YMN-P","t":7,"f":1.4,"h":1.1},{"s":"YMN-P","t":7,"f":2.0,"h":1.3},{"s":"YMN-P","t":7,"f":2.8,"h":1.0},{"s":"YMN-P","t":7,"f":4.0,"h":1.2},{"s":"YMN-P","t":7,"f":5.5,"h":1.3},{"s":"YMN-P","t":7,"f":8.0,"h":0.9},{"s":"YMN-P","t":7,"f":10,"h":1.1},
{"s":"YMN-P","t":8,"f":0.1,"h":0.8},{"s":"YMN-P","t":8,"f":0.15,"h":1.1},{"s":"YMN-P","t":8,"f":0.2,"h":1.4},{"s":"YMN-P","t":8,"f":0.27,"h":2.4},{"s":"YMN-P","t":8,"f":0.33,"h":1.2},{"s":"YMN-P","t":8,"f":0.42,"h":2.5},{"s":"YMN-P","t":8,"f":0.5,"h":1.0},{"s":"YMN-P","t":8,"f":0.65,"h":1.3},{"s":"YMN-P","t":8,"f":0.9,"h":1.1},{"s":"YMN-P","t":8,"f":1.3,"h":1.2},{"s":"YMN-P","t":8,"f":1.9,"h":1.0},{"s":"YMN-P","t":8,"f":2.8,"h":1.3},{"s":"YMN-P","t":8,"f":4.0,"h":1.0},{"s":"YMN-P","t":8,"f":5.5,"h":1.8},{"s":"YMN-P","t":8,"f":7.5,"h":1.1},{"s":"YMN-P","t":8,"f":10,"h":1.5},

{"s":"YMN-G","t":0,"f":0.1,"h":1.66},{"s":"YMN-G","t":0,"f":0.12,"h":1.59},{"s":"YMN-G","t":0,"f":0.149,"h":1.48},{"s":"YMN-G","t":0,"f":0.171,"h":1.66},{"s":"YMN-G","t":0,"f":0.217,"h":1.41},{"s":"YMN-G","t":0,"f":0.255,"h":1.55},{"s":"YMN-G","t":0,"f":0.284,"h":1.83},{"s":"YMN-G","t":0,"f":0.325,"h":1.66},{"s":"YMN-G","t":0,"f":0.392,"h":1.38},{"s":"YMN-G","t":0,"f":0.486,"h":1.41},{"s":"YMN-G","t":0,"f":0.601,"h":1.38},{"s":"YMN-G","t":0,"f":0.706,"h":1.24},{"s":"YMN-G","t":0,"f":0.829,"h":1.48},{"s":"YMN-G","t":0,"f":1.0,"h":1.21},{"s":"YMN-G","t":0,"f":1.21,"h":1.31},{"s":"YMN-G","t":0,"f":1.45,"h":1.48},{"s":"YMN-G","t":0,"f":1.75,"h":1.24},{"s":"YMN-G","t":0,"f":2.0,"h":1.14},{"s":"YMN-G","t":0,"f":2.29,"h":1.41},{"s":"YMN-G","t":0,"f":2.69,"h":1.24},{"s":"YMN-G","t":0,"f":3.35,"h":1.31},{"s":"YMN-G","t":0,"f":4.15,"h":1.31},{"s":"YMN-G","t":0,"f":4.87,"h":1.14},{"s":"YMN-G","t":0,"f":6.0,"h":1.38},{"s":"YMN-G","t":0,"f":7.4,"h":1.28},{"s":"YMN-G","t":0,"f":10,"h":1.48},
{"s":"YMN-G","t":1,"f":0.1,"h":3.8},{"s":"YMN-G","t":1,"f":0.13,"h":4.4},{"s":"YMN-G","t":1,"f":0.166,"h":6.9},{"s":"YMN-G","t":1,"f":0.2,"h":4.0},{"s":"YMN-G","t":1,"f":0.25,"h":2.0},{"s":"YMN-G","t":1,"f":0.3,"h":1.5},{"s":"YMN-G","t":1,"f":0.4,"h":1.2},{"s":"YMN-G","t":1,"f":0.55,"h":1.5},{"s":"YMN-G","t":1,"f":0.8,"h":1.0},{"s":"YMN-G","t":1,"f":1.1,"h":1.3},{"s":"YMN-G","t":1,"f":1.6,"h":1.0},{"s":"YMN-G","t":1,"f":2.5,"h":1.2},{"s":"YMN-G","t":1,"f":4.0,"h":1.1},{"s":"YMN-G","t":1,"f":6.0,"h":1.3},{"s":"YMN-G","t":1,"f":10,"h":1.2},
{"s":"YMN-G","t":2,"f":0.1,"h":3.0},{"s":"YMN-G","t":2,"f":0.11,"h":3.0},{"s":"YMN-G","t":2,"f":0.148,"h":5.6},{"s":"YMN-G","t":2,"f":0.2,"h":2.8},{"s":"YMN-G","t":2,"f":0.249,"h":4.6},{"s":"YMN-G","t":2,"f":0.29,"h":2.0},{"s":"YMN-G","t":2,"f":0.4,"h":4.9},{"s":"YMN-G","t":2,"f":0.47,"h":2.0},{"s":"YMN-G","t":2,"f":0.555,"h":4.0},{"s":"YMN-G","t":2,"f":0.65,"h":1.6},{"s":"YMN-G","t":2,"f":0.9,"h":1.2},{"s":"YMN-G","t":2,"f":1.2,"h":1.5},{"s":"YMN-G","t":2,"f":1.8,"h":1.1},{"s":"YMN-G","t":2,"f":2.5,"h":1.4},{"s":"YMN-G","t":2,"f":4.0,"h":1.2},{"s":"YMN-G","t":2,"f":6.5,"h":1.6},{"s":"YMN-G","t":2,"f":10,"h":1.5},
{"s":"YMN-G","t":3,"f":0.1,"h":2.6},{"s":"YMN-G","t":3,"f":0.15,"h":2.0},{"s":"YMN-G","t":3,"f":0.2,"h":2.3},{"s":"YMN-G","t":3,"f":0.24,"h":1.8},{"s":"YMN-G","t":3,"f":0.277,"h":8.8},{"s":"YMN-G","t":3,"f":0.3,"h":2.0},{"s":"YMN-G","t":3,"f":0.325,"h":8.8},{"s":"YMN-G","t":3,"f":0.36,"h":2.5},{"s":"YMN-G","t":3,"f":0.45,"h":1.6},{"s":"YMN-G","t":3,"f":0.6,"h":2.0},{"s":"YMN-G","t":3,"f":0.8,"h":1.3},{"s":"YMN-G","t":3,"f":1.1,"h":1.8},{"s":"YMN-G","t":3,"f":1.5,"h":1.2},{"s":"YMN-G","t":3,"f":2.2,"h":1.6},{"s":"YMN-G","t":3,"f":3.3,"h":1.0},{"s":"YMN-G","t":3,"f":5.0,"h":1.3},{"s":"YMN-G","t":3,"f":7.5,"h":1.5},{"s":"YMN-G","t":3,"f":10,"h":1.4},
{"s":"YMN-G","t":4,"f":0.1,"h":1.8},{"s":"YMN-G","t":4,"f":0.14,"h":2.2},{"s":"YMN-G","t":4,"f":0.2,"h":3.8},{"s":"YMN-G","t":4,"f":0.27,"h":3.0},{"s":"YMN-G","t":4,"f":0.32,"h":2.2},{"s":"YMN-G","t":4,"f":0.4,"h":2.8},{"s":"YMN-G","t":4,"f":0.5,"h":1.2},{"s":"YMN-G","t":4,"f":0.58,"h":1.6},{"s":"YMN-G","t":4,"f":0.8,"h":2.7},{"s":"YMN-G","t":4,"f":0.9,"h":1.5},{"s":"YMN-G","t":4,"f":1.12,"h":3.1},{"s":"YMN-G","t":4,"f":1.3,"h":1.4},{"s":"YMN-G","t":4,"f":1.45,"h":3.0},{"s":"YMN-G","t":4,"f":1.7,"h":1.4},{"s":"YMN-G","t":4,"f":2.2,"h":1.6},{"s":"YMN-G","t":4,"f":3.0,"h":1.6},{"s":"YMN-G","t":4,"f":4.0,"h":0.5},{"s":"YMN-G","t":4,"f":5.0,"h":0.8},{"s":"YMN-G","t":4,"f":7.0,"h":1.2},{"s":"YMN-G","t":4,"f":10,"h":1.3},
{"s":"YMN-G","t":5,"f":0.1,"h":2.2},{"s":"YMN-G","t":5,"f":0.15,"h":2.4},{"s":"YMN-G","t":5,"f":0.2,"h":1.8},{"s":"YMN-G","t":5,"f":0.25,"h":3.8},{"s":"YMN-G","t":5,"f":0.3,"h":1.5},{"s":"YMN-G","t":5,"f":0.38,"h":1.3},{"s":"YMN-G","t":5,"f":0.5,"h":2.7},{"s":"YMN-G","t":5,"f":0.6,"h":1.1},{"s":"YMN-G","t":5,"f":0.9,"h":3.0},{"s":"YMN-G","t":5,"f":1.05,"h":1.2},{"s":"YMN-G","t":5,"f":1.5,"h":1.4},{"s":"YMN-G","t":5,"f":2.0,"h":1.9},{"s":"YMN-G","t":5,"f":2.6,"h":1.2},{"s":"YMN-G","t":5,"f":3.5,"h":1.5},{"s":"YMN-G","t":5,"f":5.0,"h":1.1},{"s":"YMN-G","t":5,"f":7.0,"h":1.5},{"s":"YMN-G","t":5,"f":10,"h":1.6},
{"s":"YMN-G","t":6,"f":0.1,"h":1.2},{"s":"YMN-G","t":6,"f":0.15,"h":1.0},{"s":"YMN-G","t":6,"f":0.2,"h":1.3},{"s":"YMN-G","t":6,"f":0.26,"h":0.9},{"s":"YMN-G","t":6,"f":0.35,"h":1.1},{"s":"YMN-G","t":6,"f":0.45,"h":0.8},{"s":"YMN-G","t":6,"f":0.6,"h":1.0},{"s":"YMN-G","t":6,"f":0.8,"h":0.9},{"s":"YMN-G","t":6,"f":1.1,"h":0.8},{"s":"YMN-G","t":6,"f":1.5,"h":1.0},{"s":"YMN-G","t":6,"f":2.0,"h":0.8},{"s":"YMN-G","t":6,"f":3.0,"h":1.1},{"s":"YMN-G","t":6,"f":4.0,"h":0.9},{"s":"YMN-G","t":6,"f":6.0,"h":1.0},{"s":"YMN-G","t":6,"f":10,"h":1.1},
{"s":"YMN-G","t":7,"f":0.1,"h":0.7},{"s":"YMN-G","t":7,"f":0.15,"h":0.9},{"s":"YMN-G","t":7,"f":0.2,"h":0.6},{"s":"YMN-G","t":7,"f":0.3,"h":1.1},{"s":"YMN-G","t":7,"f":0.4,"h":0.9},{"s":"YMN-G","t":7,"f":0.55,"h":0.7},{"s":"YMN-G","t":7,"f":0.75,"h":1.2},{"s":"YMN-G","t":7,"f":1.0,"h":1.0},{"s":"YMN-G","t":7,"f":1.4,"h":1.3},{"s":"YMN-G","t":7,"f":2.0,"h":1.0},{"s":"YMN-G","t":7,"f":3.0,"h":1.4},{"s":"YMN-G","t":7,"f":4.5,"h":1.2},{"s":"YMN-G","t":7,"f":6.5,"h":1.0},{"s":"YMN-G","t":7,"f":10,"h":1.2},
{"s":"YMN-G","t":8,"f":0.1,"h":1.4},{"s":"YMN-G","t":8,"f":0.15,"h":1.6},{"s":"YMN-G","t":8,"f":0.2,"h":2.0},{"s":"YMN-G","t":8,"f":0.25,"h":2.3},{"s":"YMN-G","t":8,"f":0.3,"h":1.7},{"s":"YMN-G","t":8,"f":0.38,"h":2.0},{"s":"YMN-G","t":8,"f":0.5,"h":1.5},{"s":"YMN-G","t":8,"f":0.65,"h":1.9},{"s":"YMN-G","t":8,"f":0.85,"h":1.3},{"s":"YMN-G","t":8,"f":1.2,"h":1.6},{"s":"YMN-G","t":8,"f":1.7,"h":1.3},{"s":"YMN-G","t":8,"f":2.4,"h":2.0},{"s":"YMN-G","t":8,"f":3.2,"h":1.3},{"s":"YMN-G","t":8,"f":4.5,"h":1.6},{"s":"YMN-G","t":8,"f":6.5,"h":1.2},{"s":"YMN-G","t":8,"f":10,"h":1.3},
{"s":"YMN-G","t":9,"f":0.1,"h":1.0},{"s":"YMN-G","t":9,"f":0.14,"h":1.2},{"s":"YMN-G","t":9,"f":0.2,"h":1.6},{"s":"YMN-G","t":9,"f":0.28,"h":1.3},{"s":"YMN-G","t":9,"f":0.38,"h":1.5},{"s":"YMN-G","t":9,"f":0.5,"h":1.0},{"s":"YMN-G","t":9,"f":0.7,"h":1.4},{"s":"YMN-G","t":9,"f":1.0,"h":1.1},{"s":"YMN-G","t":9,"f":1.4,"h":1.2},{"s":"YMN-G","t":9,"f":2.0,"h":1.5},{"s":"YMN-G","t":9,"f":2.8,"h":1.2},{"s":"YMN-G","t":9,"f":4.0,"h":1.3},{"s":"YMN-G","t":9,"f":6.0,"h":1.4},{"s":"YMN-G","t":9,"f":10,"h":1.5}
  ]},
  "facet": {
    "field": "s",
    "type": "nominal",
    "sort": ["BUC-S", "BUC-P", "BUC-G", "YMN-S", "YMN-P", "YMN-G"],
    "title": null,
    "header": {"labels": false, "labelExpr": "''", "labelFontSize": 0, "labelPadding": 0, "title": null}
  },
  "columns": 3,
  "spacing": {"row": 60.5, "column": 79},
  "bounds": "flush",
  "resolve": {"axis": {"x": "independent", "y": "independent"}},
  "spec": {
    "width": 286,
    "height": 144,
    "layer": [
      {
        "transform": [{"filter": "datum.t != 0"}],
        "mark": {"type": "line", "color": "#888888", "strokeWidth": 0.75, "opacity": 0.55},
        "encoding": {
          "x": {
            "field": "f", "type": "quantitative",
            "scale": {"type": "log", "domain": [0.1, 10], "nice": false},
            "axis": {
              "orient": "bottom",
              "values": [0.1, 0.2, 0.3, 0.4, 0.5, 0.6, 0.7, 0.8, 0.9, 1, 2, 3, 4, 5, 6, 7, 8, 9, 10],
              "format": "~g",
              "labelExpr": "datum.value == 0.1 || datum.value == 1 || datum.value == 10 ? datum.label : ''",
              "labelOverlap": false,
              "labelFlush": false,
              "tickSize": {"condition": {"test": "datum.value == 0.1 || datum.value == 1 || datum.value == 10", "value": 8}, "value": 5},
              "title": "Frekans (Hz)",
              "titleFontSize": 11,
              "titleFontWeight": "normal",
              "titleColor": "#333333",
              "titlePadding": 0,
              "labelFontSize": 9,
              "labelColor": "#555555",
              "labelPadding": 10,
              "grid": false,
              "domainColor": "#cccccc",
              "tickColor": "#cccccc"
            }
          },
          "y": {
            "field": "h", "type": "quantitative",
            "scale": {"domain": [0, 15], "nice": false, "zero": false},
            "axis": {
              "orient": "left",
              "values": [0, 1, 2, 3, 4, 5, 6, 7, 8, 9, 10, 11, 12, 13, 14, 15],
              "labelExpr": "datum.value % 5 == 0 ? datum.label : ''",
              "labelOverlap": false,
              "labelFlush": false,
              "tickSize": 5,
              "title": "HVSR",
              "titleFontSize": 11,
              "titleFontWeight": "normal",
              "titleColor": "#333333",
              "titlePadding": 4,
              "labelFontSize": 9,
              "labelColor": "#555555",
              "labelPadding": 5,
              "grid": false,
              "domainColor": "#cccccc",
              "tickColor": "#cccccc"
            }
          },
          "detail": {"field": "t", "type": "nominal"}
        }
      },
      {
        "transform": [{"filter": "datum.t == 0"}],
        "mark": {"type": "line", "color": "#ff0000", "strokeWidth": 2.4, "interpolate": "monotone"},
        "encoding": {
          "x": {
            "field": "f", "type": "quantitative",
            "axis": {
              "orient": "top",
              "values": [0.1, 0.2, 0.3, 0.4, 0.5, 0.6, 0.7, 0.8, 0.9, 1, 2, 3, 4, 5, 6, 7, 8, 9, 10],
              "labels": false,
              "title": null,
              "tickSize": {"condition": {"test": "datum.value == 0.1 || datum.value == 1 || datum.value == 10", "value": 8}, "value": 5},
              "grid": false,
              "domainColor": "#cccccc",
              "tickColor": "#cccccc"
            }
          },
          "y": {
            "field": "h", "type": "quantitative",
            "axis": {
              "orient": "right",
              "values": [0, 1, 2, 3, 4, 5, 6, 7, 8, 9, 10, 11, 12, 13, 14, 15],
              "labels": false,
              "title": null,
              "tickSize": 5,
              "grid": false,
              "domainColor": "#cccccc",
              "tickColor": "#cccccc"
            }
          }
        }
      },
      {
        "transform": [{"filter": "datum.t == 0 && datum.f == 0.1"}],
        "mark": {"type": "text", "align": "right", "baseline": "middle", "fontSize": 14, "fontWeight": "bold", "color": "#111111"},
        "encoding": {
          "x": {"datum": 9.1, "axis": null},
          "y": {"datum": 12.6, "axis": null},
          "text": {"field": "s", "type": "nominal"}
        }
      },
      {
        "transform": [{"filter": "datum.t == 0 && datum.f == 0.1"}],
        "mark": {"type": "rect", "filled": false, "stroke": "#000000", "strokeWidth": 3.5},
        "encoding": {
          "x": {"datum": 0.04224, "axis": null},
          "x2": {"datum": 15.08},
          "y": {"datum": 15.99, "axis": null},
          "y2": {"datum": -5.31}
        }
      }
    ],
    "resolve": {"axis": {"x": "independent", "y": "independent"}}
  },
  "config": {
    "view": {"stroke": null},
    "font": "Liberation Sans",
    "axis": {"labelFont": "Liberation Sans", "titleFont": "Liberation Sans"},
    "header": {"labels": false, "title": null, "labelFontSize": 0, "labelPadding": 0},
    "headerFacet": {"labels": false, "title": null, "labelFontSize": 0, "labelPadding": 0}
  }
}
